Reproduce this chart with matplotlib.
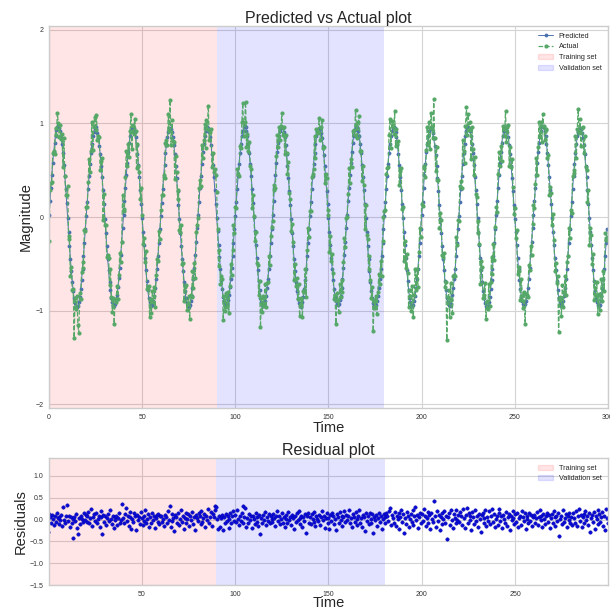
import numpy as np
import matplotlib
matplotlib.use("Agg")
import matplotlib.pyplot as plt
from matplotlib.patches import Patch
from matplotlib.lines import Line2D

# model output, one row per 20-unit cycle (samples every 0.5 time units)
predicted = [
    0.02, 0.17, 0.31, 0.45, 0.58, 0.69, 0.79, 0.87, 0.93, 0.96, 0.97, 0.95, 0.92, 0.85, 0.78, 0.68, 0.56, 0.44, 0.30, 0.15, -0.01, -0.16, -0.31, -0.45, -0.58, -0.69, -0.79, -0.87, -0.92, -0.95, -0.96, -0.95, -0.91, -0.85, -0.77, -0.67, -0.55, -0.42, -0.28, -0.13,
    0.01, 0.16, 0.30, 0.44, 0.57, 0.68, 0.78, 0.86, 0.91, 0.95, 0.96, 0.94, 0.90, 0.84, 0.76, 0.67, 0.55, 0.43, 0.29, 0.14, -0.02, -0.17, -0.31, -0.45, -0.57, -0.69, -0.78, -0.86, -0.91, -0.94, -0.95, -0.93, -0.89, -0.83, -0.75, -0.65, -0.54, -0.41, -0.27, -0.12,
    0.02, 0.17, 0.31, 0.45, 0.58, 0.69, 0.79, 0.86, 0.92, 0.95, 0.96, 0.95, 0.91, 0.85, 0.77, 0.67, 0.56, 0.43, 0.29, 0.14, -0.01, -0.16, -0.30, -0.44, -0.57, -0.68, -0.78, -0.86, -0.91, -0.94, -0.95, -0.94, -0.90, -0.84, -0.76, -0.66, -0.55, -0.42, -0.28, -0.13,
    0.01, 0.15, 0.30, 0.43, 0.56, 0.68, 0.77, 0.85, 0.91, 0.94, 0.95, 0.94, 0.91, 0.85, 0.77, 0.67, 0.55, 0.42, 0.28, 0.13, -0.02, -0.17, -0.31, -0.45, -0.58, -0.69, -0.79, -0.87, -0.92, -0.95, -0.96, -0.94, -0.90, -0.84, -0.76, -0.66, -0.54, -0.41, -0.27, -0.12,
    0.02, 0.16, 0.31, 0.44, 0.57, 0.69, 0.78, 0.86, 0.92, 0.95, 0.96, 0.95, 0.91, 0.85, 0.77, 0.67, 0.56, 0.43, 0.29, 0.14, -0.01, -0.15, -0.30, -0.43, -0.56, -0.67, -0.77, -0.85, -0.90, -0.93, -0.94, -0.93, -0.89, -0.83, -0.75, -0.66, -0.54, -0.42, -0.28, -0.13,
    0.01, 0.16, 0.30, 0.44, 0.57, 0.68, 0.78, 0.86, 0.92, 0.96, 0.97, 0.96, 0.92, 0.86, 0.78, 0.68, 0.57, 0.44, 0.30, 0.15, 0.00, -0.15, -0.30, -0.44, -0.57, -0.68, -0.78, -0.86, -0.91, -0.94, -0.95, -0.94, -0.90, -0.84, -0.76, -0.66, -0.55, -0.42, -0.28, -0.13,
    0.02, 0.17, 0.31, 0.45, 0.58, 0.69, 0.79, 0.87, 0.92, 0.95, 0.96, 0.95, 0.91, 0.85, 0.77, 0.67, 0.55, 0.42, 0.28, 0.13, -0.02, -0.17, -0.31, -0.45, -0.58, -0.69, -0.79, -0.87, -0.92, -0.95, -0.96, -0.95, -0.91, -0.85, -0.77, -0.67, -0.55, -0.42, -0.28, -0.13,
    0.01, 0.16, 0.30, 0.44, 0.57, 0.68, 0.78, 0.86, 0.91, 0.94, 0.95, 0.94, 0.90, 0.84, 0.76, 0.66, 0.55, 0.42, 0.28, 0.14, -0.01, -0.16, -0.30, -0.44, -0.56, -0.67, -0.77, -0.85, -0.90, -0.93, -0.94, -0.93, -0.89, -0.84, -0.76, -0.66, -0.54, -0.41, -0.27, -0.12,
    0.02, 0.17, 0.31, 0.45, 0.58, 0.69, 0.79, 0.87, 0.93, 0.96, 0.97, 0.96, 0.92, 0.86, 0.78, 0.68, 0.56, 0.43, 0.29, 0.14, -0.01, -0.16, -0.31, -0.45, -0.58, -0.69, -0.79, -0.87, -0.92, -0.95, -0.96, -0.94, -0.90, -0.84, -0.76, -0.66, -0.55, -0.42, -0.28, -0.13,
    0.01, 0.16, 0.30, 0.44, 0.57, 0.68, 0.78, 0.86, 0.92, 0.95, 0.96, 0.95, 0.91, 0.85, 0.77, 0.67, 0.56, 0.43, 0.29, 0.14, -0.01, -0.16, -0.30, -0.44, -0.57, -0.68, -0.78, -0.86, -0.91, -0.94, -0.95, -0.94, -0.90, -0.84, -0.76, -0.66, -0.55, -0.42, -0.28, -0.13,
    0.02, 0.16, 0.31, 0.45, 0.57, 0.69, 0.78, 0.86, 0.92, 0.95, 0.96, 0.94, 0.90, 0.84, 0.76, 0.66, 0.55, 0.42, 0.28, 0.13, -0.02, -0.17, -0.31, -0.45, -0.57, -0.68, -0.78, -0.86, -0.91, -0.94, -0.95, -0.93, -0.89, -0.83, -0.76, -0.66, -0.55, -0.42, -0.28, -0.13,
    0.01, 0.16, 0.30, 0.44, 0.57, 0.68, 0.78, 0.86, 0.92, 0.95, 0.96, 0.95, 0.92, 0.86, 0.78, 0.68, 0.56, 0.43, 0.29, 0.14, -0.01, -0.16, -0.30, -0.44, -0.57, -0.69, -0.79, -0.87, -0.92, -0.95, -0.96, -0.95, -0.91, -0.85, -0.77, -0.67, -0.55, -0.42, -0.28, -0.13,
    0.02, 0.17, 0.31, 0.45, 0.58, 0.69, 0.79, 0.86, 0.92, 0.95, 0.96, 0.95, 0.91, 0.85, 0.77, 0.67, 0.55, 0.42, 0.28, 0.13, -0.02, -0.16, -0.30, -0.44, -0.56, -0.67, -0.77, -0.85, -0.90, -0.93, -0.94, -0.93, -0.90, -0.84, -0.76, -0.66, -0.54, -0.41, -0.27, -0.12,
    0.02, 0.17, 0.31, 0.45, 0.58, 0.69, 0.79, 0.87, 0.92, 0.96, 0.97, 0.96, 0.92, 0.86, 0.78, 0.68, 0.56, 0.43, 0.29, 0.14, -0.01, -0.16, -0.30, -0.44, -0.57, -0.68, -0.78, -0.86, -0.91, -0.94, -0.95, -0.94, -0.90, -0.84, -0.76, -0.66, -0.55, -0.42, -0.28, -0.13,
    0.01, 0.16, 0.30, 0.44, 0.57, 0.68, 0.78, 0.86, 0.91, 0.94, 0.95, 0.94, 0.90, 0.84, 0.77, 0.67, 0.55, 0.43, 0.29, 0.14, -0.01, -0.16, -0.30, -0.44, -0.57, -0.68, -0.78, -0.86, -0.91, -0.94, -0.95, -0.94, -0.90, -0.84, -0.76, -0.66, -0.55, -0.42, -0.28, -0.13,
]

# actual - predicted, same sampling
residuals = [
    -0.28, 0.12, 0.05, -0.08, 0.10, 0.02, -0.12, 0.08, -0.05, 0.15, 0.03, -0.10, 0.06, -0.02, 0.11, -0.15, 0.28, 0.00, -0.07, 0.09, 0.34, -0.04, 0.07, -0.18, 0.05, -0.09, 0.02, -0.42, 0.06, -0.03, 0.12, -0.20, -0.33, 0.04, -0.11, 0.08, 0.01, -0.06, 0.14, -0.02,
    0.10, -0.05, 0.07, 0.18, -0.09, 0.03, 0.24, -0.14, 0.06, 0.12, -0.03, 0.15, -0.08, 0.02, 0.09, -0.17, 0.05, 0.20, -0.32, 0.11, -0.06, 0.08, -0.12, 0.04, 0.13, -0.04, 0.22, 0.01, -0.10, 0.07, -0.19, 0.05, -0.02, 0.09, -0.13, 0.03, 0.16, -0.07, 0.00, 0.35,
    0.04, -0.08, 0.12, 0.26, -0.03, 0.09, -0.15, 0.06, 0.18, -0.22, 0.02, -0.06, 0.14, 0.07, -0.25, 0.11, -0.02, 0.05, -0.10, 0.17, 0.03, -0.13, 0.08, -0.04, 0.21, -0.09, 0.01, 0.12, -0.16, 0.06, -0.07, 0.15, -0.01, 0.09, -0.20, 0.04, 0.10, -0.05, 0.13, -0.11,
    0.07, 0.08, -0.06, 0.02, -0.14, 0.11, 0.05, -0.08, 0.19, -0.02, 0.30, -0.17, 0.13, -0.04, 0.03, -0.26, 0.10, 0.06, -0.09, 0.16, -0.12, 0.01, 0.22, -0.05, 0.09, -0.21, 0.04, 0.14, -0.07, 0.02, 0.12, -0.15, 0.07, -0.01, 0.18, -0.10, 0.05, -0.24, 0.11, 0.03,
    -0.03, 0.15, 0.08, -0.11, 0.20, -0.06, 0.04, 0.13, -0.18, 0.09, -0.02, 0.24, -0.09, 0.06, 0.17, -0.14, 0.12, 0.05, 0.22, 0.31, 0.28, 0.02, -0.22, 0.08, -0.16, 0.04, 0.11, -0.25, 0.06, -0.07, 0.13, -0.03, 0.09, -0.19, 0.01, 0.16, -0.08, 0.07, 0.20, -0.04,
    0.10, -0.06, 0.21, 0.02, -0.13, 0.08, -0.04, 0.15, 0.30, -0.09, 0.05, 0.27, -0.17, 0.03, -0.08, 0.12, -0.02, 0.07, -0.20, 0.09, 0.01, -0.11, 0.14, -0.05, 0.06, -0.15, 0.10, -0.32, 0.04, -0.07, 0.11, -0.01, 0.18, -0.12, 0.05, -0.03, 0.13, -0.09, 0.08, 0.02,
    -0.06, 0.12, 0.03, -0.14, 0.07, 0.19, -0.04, 0.09, -0.10, 0.02, 0.15, -0.07, 0.05, -0.18, 0.11, 0.01, -0.09, 0.17, -0.02, 0.06, -0.13, 0.10, 0.04, -0.22, 0.08, -0.05, 0.14, -0.01, 0.20, -0.11, 0.03, 0.09, -0.16, 0.06, -0.03, 0.12, -0.30, 0.07, 0.16, -0.08,
    0.05, -0.10, 0.13, 0.02, -0.06, 0.18, -0.15, 0.08, 0.01, -0.04, 0.11, -0.12, 0.06, 0.20, -0.02, 0.09, -0.19, 0.04, 0.14, -0.07, 0.03, -0.21, 0.10, -0.03, 0.16, 0.07, -0.11, 0.02, -0.24, 0.12, 0.05, -0.08, 0.17, -0.01, 0.09, -0.14, 0.06, 0.19, -0.05, 0.11,
    -0.02, 0.08, 0.21, -0.09, 0.04, -0.16, 0.13, 0.06, -0.05, 0.18, 0.01, -0.12, 0.09, 0.22, -0.07, 0.03, -0.18, 0.11, 0.05, -0.27, 0.14, -0.03, 0.07, -0.10, 0.16, 0.02, -0.08, 0.12, -0.30, 0.06, -0.01, 0.10, -0.14, 0.04, 0.15, -0.06, 0.08, -0.21, 0.02, 0.13,
    0.05, -0.09, 0.16, 0.08, -0.04, 0.20, 0.27, -0.12, 0.11, 0.03, -0.07, 0.18, -0.15, 0.09, 0.01, 0.14, -0.22, 0.06, 0.23, -0.05, 0.12, -0.31, 0.04, -0.10, 0.17, 0.08, -0.18, 0.02, 0.13, -0.06, 0.21, -0.13, 0.07, 0.29, -0.02, 0.10, -0.20, 0.05, 0.16, -0.08,
    0.12, -0.04, 0.24, 0.07, -0.14, 0.03, 0.18, -0.09, 0.10, -0.22, 0.15, 0.01, -0.06, 0.42, 0.08, -0.17, 0.20, -0.03, 0.11, -0.25, 0.06, 0.14, -0.10, 0.02, 0.19, -0.07, 0.09, -0.45, 0.05, 0.16, -0.12, 0.23, 0.00, -0.19, 0.13, 0.04, -0.08, 0.21, -0.02, 0.10,
    -0.05, 0.17, 0.08, -0.13, 0.25, 0.03, -0.20, 0.11, 0.26, -0.07, 0.14, -0.02, 0.09, -0.24, 0.18, 0.05, -0.11, 0.21, -0.04, 0.07, -0.16, 0.12, 0.01, -0.28, 0.10, 0.16, -0.08, 0.04, 0.22, -0.14, 0.06, -0.03, 0.19, -0.10, 0.08, 0.24, -0.06, 0.13, -0.18, 0.02,
    0.09, -0.12, 0.15, 0.24, -0.04, 0.07, -0.19, 0.11, 0.02, -0.08, 0.17, -0.15, 0.05, 0.13, -0.23, 0.08, -0.02, 0.20, 0.04, -0.10, 0.12, -0.06, 0.16, -0.17, 0.03, 0.09, -0.12, 0.19, 0.06, -0.04, 0.14, -0.21, 0.08, 0.01, -0.09, 0.15, -0.03, 0.10, -0.14, 0.05,
    0.11, -0.07, 0.04, 0.18, -0.13, 0.06, 0.22, -0.02, 0.09, -0.16, 0.13, 0.01, -0.10, 0.07, 0.16, -0.05, 0.10, -0.20, 0.03, 0.12, -0.08, 0.19, 0.05, -0.14, 0.08, -0.03, 0.15, -0.37, 0.02, 0.09, -0.11, 0.21, -0.06, 0.04, 0.13, -0.17, 0.07, 0.00, 0.16, -0.09,
    0.06, -0.12, 0.14, 0.03, -0.07, 0.19, -0.15, 0.08, 0.24, -0.04, 0.10, -0.18, 0.05, 0.12, -0.09, 0.20, -0.02, 0.07, -0.13, 0.15, -0.29, 0.04, 0.11, -0.06, 0.17, -0.21, 0.09, 0.02, 0.22, -0.10, 0.13, -0.05, 0.06, 0.18, -0.14, 0.08, -0.24, 0.25, 0.03, -0.08,
]

time_step = 0.5
train_end = 90
valid_end = 180

predicted = np.array(predicted)
residuals = np.array(residuals)
actual = predicted + residuals
time = np.arange(len(predicted)) * time_step

plt.style.use("seaborn-v0_8-whitegrid")
plt.rcParams["font.family"] = ["Liberation Sans", "DejaVu Sans"]
plt.rcParams["axes.edgecolor"] = "#cccccc"
plt.rcParams["grid.color"] = "#d4d4d4"

fig = plt.figure(figsize=(6.1, 6.12), dpi=100)
ax1 = fig.add_axes([0.0803, 0.3333, 0.9164, 0.6242])
ax2 = fig.add_axes([0.0803, 0.0441, 0.9164, 0.2075])

blue = "#4C72B0"
green = "#55A868"

# top: predicted vs actual
ax1.axvspan(0, train_end, color="r", alpha=0.1, lw=0)
ax1.axvspan(train_end, valid_end, color="b", alpha=0.11, lw=0)
ax1.plot(time, predicted, ".-", color=blue, lw=0.7, ms=3.5)
ax1.plot(time, actual, ".--", color=green, lw=0.9, ms=4)
ax1.set_xlim(0, 300)
ax1.set_ylim(-2.04, 2.04)
ax1.set_yticks([-2, -1, 0, 1, 2])
ax1.set_title("Predicted vs Actual plot", fontsize=11.5, pad=2)
ax1.set_xlabel("Time", fontsize=10.5, labelpad=0)
ax1.set_ylabel("Magnitude", fontsize=10.5, labelpad=2)
ax1.tick_params(labelsize=5, colors="#333333", length=0, pad=4)

handles = [
    Line2D([], [], color=blue, marker=".", lw=0.7, ms=3.5),
    Line2D([], [], color=green, marker=".", ls="--", lw=0.9, ms=4),
    Patch(color="r", alpha=0.1),
    Patch(color="b", alpha=0.11),
]
ax1.legend(handles, ["Predicted", "Actual", "Training set", "Validation set"],
           loc="upper right", fontsize=5.2, frameon=False)

# bottom: residuals
ax2.axvspan(0, train_end, color="r", alpha=0.1, lw=0)
ax2.axvspan(train_end, valid_end, color="b", alpha=0.11, lw=0)
ax2.plot(time, residuals, "o", color="#0b0bd6", ms=2.5, mec="#0000a8", mew=0.3)
ax2.set_xlim(0.4, 299.6)
ax2.set_ylim(-1.5, 1.41)
ax2.set_yticks([-1.5, -1.0, -0.5, 0.0, 0.5, 1.0])
ax2.set_title("Residual plot", fontsize=11.5, pad=1)
ax2.set_xlabel("Time", fontsize=10.5, labelpad=-1)
ax2.set_ylabel("Residuals", fontsize=10.5, labelpad=1)
ax2.tick_params(labelsize=5, colors="#333333", length=0, pad=4)
ax2.legend([Patch(color="r", alpha=0.1), Patch(color="b", alpha=0.11)],
           ["Training set", "Validation set"], loc="upper right", fontsize=5.2, frameon=False)

fig.savefig("out.png", dpi=100)
